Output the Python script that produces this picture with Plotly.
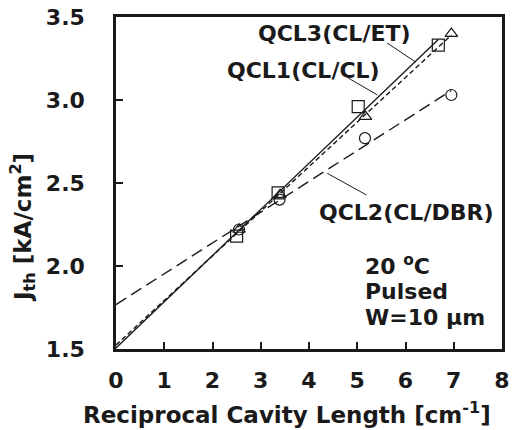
import numpy as np
import plotly.graph_objects as go

# Data (reciprocal cavity length [cm^-1], threshold current density [kA/cm^2])
qcl1_x = [2.50, 3.36, 5.02, 6.68]
qcl1_y = [2.18, 2.44, 2.96, 3.33]
qcl3_x = [2.55, 3.40, 5.17, 6.95]
qcl3_y = [2.22, 2.43, 2.90, 3.40]
qcl2_x = [2.55, 3.39, 5.16, 6.95]
qcl2_y = [2.22, 2.40, 2.77, 3.03]

x_ticks = [0, 1, 2, 3, 4, 5, 6, 7, 8]
y_ticks = [1.5, 2.0, 2.5, 3.0, 3.5]

FONT = "DejaVu Sans"
BLACK = "#1a1a1a"

def fit_line(x, y):
    slope, intercept = np.polyfit(x, y, 1)
    xs = np.array([0.0, max(x)])
    return xs, intercept + slope * xs

fig = go.Figure()

series = [
    (qcl1_x, qcl1_y, "square-open", "solid", 12),
    (qcl3_x, qcl3_y, "triangle-up-open", "5px,3px", 11),
    (qcl2_x, qcl2_y, "circle-open", "12px,6px", 11),
]
for x, y, sym, dash, ms in series:
    fx, fy = fit_line(x, y)
    fig.add_trace(go.Scatter(x=fx, y=fy, mode="lines",
                             line=dict(color=BLACK, width=1.4, dash=dash),
                             showlegend=False, hoverinfo="skip"))
for x, y, sym, dash, ms in series:
    fig.add_trace(go.Scatter(x=x, y=y, mode="markers",
                             marker=dict(symbol=sym, size=ms, color=BLACK,
                                         line=dict(color=BLACK, width=1.2)),
                             showlegend=False))

L, R, T, B = 116, 4, 17, 81
W, H = 514, 430
pw, ph = W - L - R, H - T - B

def px(xp):
    return (xp - L) / pw

def py(yp):
    return (H - B - yp) / ph

lab_font = dict(family=FONT, size=22, color=BLACK, weight="bold")
title_font = dict(family=FONT, size=23, color=BLACK, weight="bold")
annotations = [
    dict(text="QCL3(CL/ET)", x=px(339), y=py(34)),
    dict(text="QCL1(CL/CL)", x=px(307), y=py(70)),
    dict(text="QCL2(CL/DBR)", x=px(412), y=py(212)),
    dict(text="20 <sup>o</sup>C", x=px(368), y=py(265), xanchor="left"),
    dict(text="Pulsed", x=px(368), y=py(291), xanchor="left"),
    dict(text="W=10 µm", x=px(368), y=py(317), xanchor="left"),
    dict(text="J<sub>th</sub> [kA/cm<sup>2</sup>]", x=px(20), y=py(227),
         textangle=-90, font=title_font),
    dict(text="Reciprocal Cavity Length [cm<sup>-1</sup>]", x=px(291), y=py(413),
         font=title_font),
]
anns = []
for a in annotations:
    d = dict(xref="paper", yref="paper", showarrow=False, font=lab_font,
             xanchor="center", yanchor="middle")
    d.update(a)
    anns.append(d)

leaders = [
    ((5.62, 3.343), (6.21, 3.229)),
    ((4.81, 3.133), (5.42, 3.030)),
    ((4.38, 2.558), (5.19, 2.428)),
]
shapes = [dict(type="line", xref="x", yref="y", x0=a[0], y0=a[1], x1=b[0], y1=b[1],
               line=dict(color=BLACK, width=1)) for a, b in leaders]

axis_common = dict(showline=True, linewidth=2.5, linecolor=BLACK, mirror=True,
                   ticks="inside", ticklen=7, tickwidth=2, tickcolor=BLACK,
                   showgrid=False, zeroline=False, ticklabeloverflow="allow",
                   tickfont=dict(family=FONT, size=22, color=BLACK, weight="bold"))

fig.update_layout(
    width=W, height=H,
    margin=dict(l=L, r=R, t=T, b=B, pad=0),
    paper_bgcolor="white", plot_bgcolor="white",
    xaxis=dict(range=[0, 8], tickvals=x_ticks, ticktext=[str(v) for v in x_ticks],
               ticklabelstandoff=10, **axis_common),
    yaxis=dict(range=[1.5, 3.5], tickvals=y_ticks, ticktext=[f"{v:.1f}" for v in y_ticks],
               ticklabelstandoff=24, **axis_common),
    annotations=anns, shapes=shapes,
)

fig.write_html("out.html")
